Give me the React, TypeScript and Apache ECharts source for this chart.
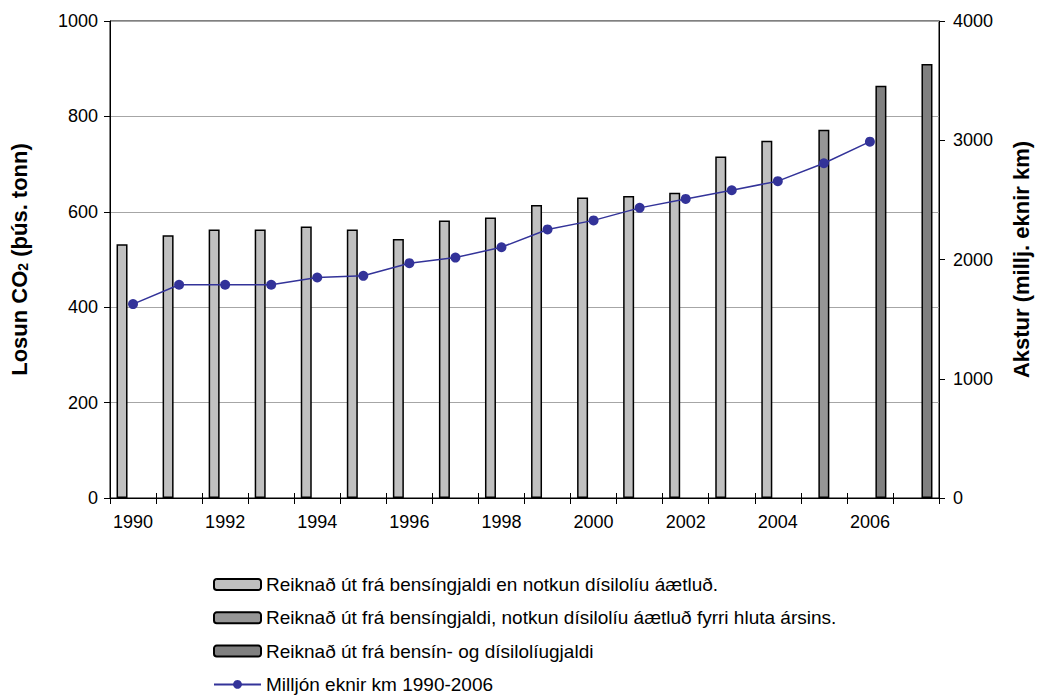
import React, { useEffect, useRef } from "react";
import * as echarts from "echarts";

const years = ["1990","1991","1992","1993","1994","1995","1996","1997","1998","1999","2000","2001","2002","2003","2004","2005","2006","2007"];
const estimatedDiesel = [532, 551, 563, 563, 569, 563, 543, 582, 588, 614, 630, 633, 640, 716, 749, null, null, null];
const partlyEstimated = [null, null, null, null, null, null, null, null, null, null, null, null, null, null, null, 772, null, null];
const fromBothFees = [null, null, null, null, null, null, null, null, null, null, null, null, null, null, null, null, 864, 910];
const millionKm = [1626, 1788, 1788, 1788, 1849, 1863, 1969, 2016, 2103, 2252, 2328, 2433, 2508, 2581, 2657, 2807, 2988, null];

const seriesNames = [
  "Reiknað út frá bensíngjaldi en notkun dísilolíu áætluð.",
  "Reiknað út frá bensíngjaldi, notkun dísilolíu áætluð fyrri hluta ársins.",
  "Reiknað út frá bensín- og dísilolíugjaldi",
  "Milljón eknir km 1990-2006",
];

const FONT = "'Liberation Sans', Arial, sans-serif";

export default function App() {
  const ref = useRef<HTMLDivElement>(null);
  useEffect(() => {
    if (!ref.current) return;
    const chart = echarts.init(ref.current, null, { renderer: "svg" });
    const barStyle = (color: string) => ({ color, borderColor: "#000", borderWidth: 1.5 });
    const plain = (v: number) => String(v);
    chart.setOption({
      animation: false,
      textStyle: { fontFamily: FONT, color: "#000" },
      grid: { left: 103, right: 92, top: 21, bottom: 197, show: true, borderColor: "#000", borderWidth: 1, backgroundColor: "transparent" },
      legend: {
        orient: "vertical",
        left: 213,
        top: 575,
        height: 200,
        padding: 0,
        itemWidth: 47,
        itemHeight: 11,
        itemGap: 14.3,
        textStyle: { fontFamily: FONT, fontSize: 19, color: "#000" },
        data: seriesNames,
      },
      xAxis: [
        {
          type: "category",
          data: years,
          boundaryGap: true,
          axisLine: { lineStyle: { color: "#000", width: 1 } },
          axisTick: { show: true, interval: 0, length: 6, lineStyle: { color: "#000" } },
          axisLabel: { interval: 1, margin: 15, fontSize: 18, color: "#000", fontFamily: FONT },
          splitLine: { show: false },
        },
        {
          type: "category",
          data: years,
          position: "bottom",
          offset: 0,
          boundaryGap: true,
          axisLine: { show: false },
          axisTick: { show: true, inside: true, interval: 0, length: 5, lineStyle: { color: "#000" } },
          axisLabel: { show: false },
          splitLine: { show: false },
        },
      ],
      yAxis: [
        {
          type: "value",
          min: 0,
          max: 1000,
          interval: 200,
          name: "{a|Losun CO}{s|2}{a| (þús. tonn)}",
          nameLocation: "middle",
          nameRotate: 90,
          nameGap: 80,
          nameTextStyle: {
            rich: {
              a: { fontFamily: FONT, fontSize: 22, fontWeight: "bold", color: "#000" },
              s: { fontFamily: FONT, fontSize: 14, fontWeight: "bold", color: "#000", padding: [8, 0, 0, 0] },
            },
          },
          axisLine: { show: true, lineStyle: { color: "#000", width: 1 } },
          axisTick: { show: true, length: 6, lineStyle: { color: "#000" } },
          axisLabel: { margin: 12, fontSize: 18, color: "#000", fontFamily: FONT, formatter: plain },
          splitLine: { show: true, lineStyle: { color: "#a6a6a6", width: 1 } },
        },
        {
          type: "value",
          min: 0,
          max: 4000,
          interval: 1000,
          position: "right",
          name: "Akstur (millj. eknir km)",
          nameLocation: "middle",
          nameRotate: 90,
          nameGap: 71,
          nameTextStyle: { fontFamily: FONT, fontSize: 22, fontWeight: "bold", color: "#000" },
          axisLine: { show: true, lineStyle: { color: "#000", width: 1 } },
          axisTick: { show: true, length: 6, lineStyle: { color: "#000" } },
          axisLabel: { margin: 14, fontSize: 18, color: "#000", fontFamily: FONT, formatter: plain },
          splitLine: { show: false },
        },
      ],
      series: [
        { name: seriesNames[0], type: "bar", data: estimatedDiesel, barWidth: 11, barGap: "0%", itemStyle: barStyle("#c0c0c0") },
        { name: seriesNames[1], type: "bar", data: partlyEstimated, barWidth: 11, barGap: "0%", itemStyle: barStyle("#969696") },
        { name: seriesNames[2], type: "bar", data: fromBothFees, barWidth: 11, barGap: "0%", itemStyle: barStyle("#808080") },
        {
          name: seriesNames[3],
          type: "line",
          yAxisIndex: 1,
          data: millionKm,
          symbol: "circle",
          symbolSize: 10,
          lineStyle: { color: "#333399", width: 1.5 },
          itemStyle: { color: "#333399" },
          z: 5,
        },
      ],
    });
    return () => chart.dispose();
  }, []);
  return <div ref={ref} style={{ position: "absolute", left: 0, top: 0, width: 1040, height: 695 }} />;
}
